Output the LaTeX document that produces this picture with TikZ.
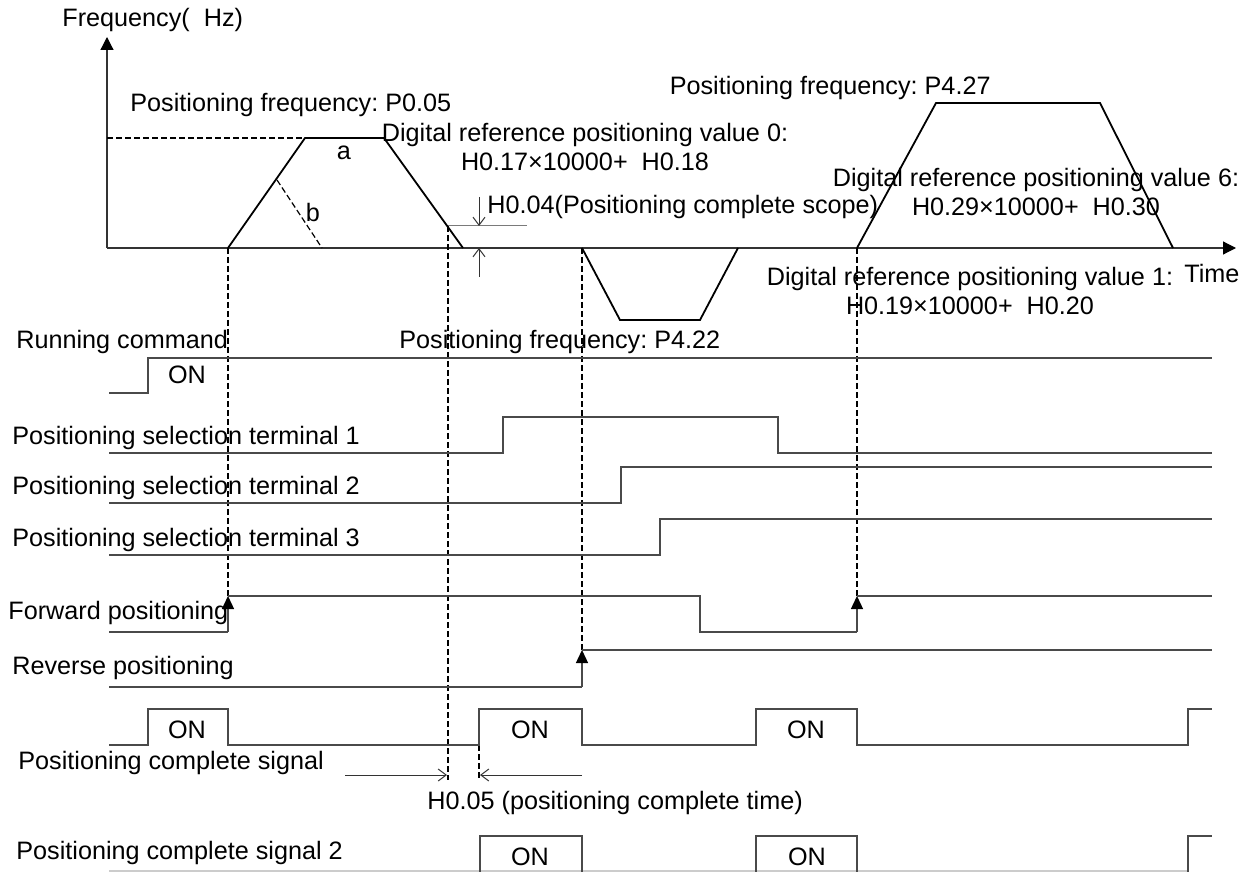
\documentclass[tikz,border=0pt]{standalone}
\usepackage{fontspec}
\setmainfont{Liberation Sans}
\usetikzlibrary{arrows.meta}
\definecolor{wavegray}{HTML}{4A4A4A}
\definecolor{guidegray}{HTML}{7A7A7A}
\frenchspacing

\begin{document}
\begin{tikzpicture}[
  x=0.5pt, y=-0.5pt,
  font=\fontsize{12.6}{14.5}\selectfont,
  lbl/.style={inner sep=0pt, anchor=west},
  ml/.style={inner sep=0pt, align=center},
  axis/.style={line width=0.6pt, draw=black!80, -{Triangle[length=6.5pt, width=6.5pt, color=black]}},
  ramp/.style={line width=0.9pt, line join=miter},
  wave/.style={line width=0.65pt, draw=wavegray},
  trig/.style={wave, -{Triangle[length=6.5pt, width=6pt, color=black]}},
  guide/.style={line width=0.6pt, dash pattern=on 3pt off 1.5pt},
  dim/.style={line width=0.5pt, draw=black!80, -{Straight Barb[length=4pt, width=6pt]}}
]
  \useasboundingbox (0,0) rectangle (1250,872);

  % axes
  \draw[axis] (107,248) -- (107,37);
  \draw[axis] (107,248) -- (1236,248);
  \node[lbl] (freq) at (62,20) {Frequency(\ \ Hz)};
  \node[lbl] (time) at (1184,273) {Time};

  % frequency profile
  \draw[guide] (107,138) -- (305,138);
  \draw[ramp] (228,248) -- (305,138) -- (384,138) -- (463,248);
  \draw[guide] (277,180) -- (322,248);
  \node[inner sep=0pt] (a) at (344,153) {a};
  \node[inner sep=0pt] (b) at (313,212) {b};
  \draw[ramp] (582,248) -- (620,320) -- (700,320) -- (738,248);
  \draw[ramp] (857,248) -- (936,103) -- (1100,103) -- (1173,248);

  \node[lbl] (pf0) at (130,105) {Positioning frequency: P0.05};
  \node[ml] (dv0) at (585,147) {Digital reference positioning value 0:\\H0.17×10000+\ \ H0.18};
  \node[lbl] (h04) at (487,207) {H0.04(Positioning complete scope)};
  \node[lbl, anchor=east] (pf27) at (991,88) {Positioning frequency: P4.27};
  \node[ml] (dv6) at (1036,192) {Digital reference positioning value 6:\\H0.29×10000+\ \ H0.30};
  \node[ml] (dv1) at (970,291) {Digital reference positioning value 1:\\H0.19×10000+\ \ H0.20};

  % complete scope
  \draw[line width=0.5pt, draw=guidegray] (448,226) -- (527,226);
  \draw[dim] (479,197) -- (479,226);
  \draw[dim] (479,277) -- (479,248);

  % dashed markers
  \draw[guide] (228,248) -- (228,596);
  \draw[guide] (448,226) -- (448,780);
  \draw[guide] (582,248) -- (582,650);
  \draw[guide] (857,248) -- (857,596);
  \draw[guide] (479,745) -- (479,780);

  % running command
  \node[lbl] (run) at (16,342) {Running command};
  \node[lbl] (pf22) at (399,342) {Positioning frequency: P4.22};
  \draw[wave] (109,393) -- (148,393) -- (148,358) -- (1212,358);
  \node[inner sep=0pt] (on1) at (187,375) {ON};

  % selection terminals
  \node[lbl] (sel1) at (12,438) {Positioning selection terminal 1};
  \draw[wave] (109,453) -- (503,453) -- (503,417) -- (778,417) -- (778,453) -- (1212,453);
  \node[lbl] (sel2) at (12,488) {Positioning selection terminal 2};
  \draw[wave] (109,503) -- (621,503) -- (621,467) -- (1212,467);
  \node[lbl] (sel3) at (12,540) {Positioning selection terminal 3};
  \draw[wave] (109,555) -- (660,555) -- (660,519) -- (1212,519);

  % forward / reverse
  \node[lbl] (fwd) at (8,613) {Forward positioning};
  \draw[wave] (109,632) -- (228,632);
  \draw[trig] (228,632) -- (228,596);
  \draw[wave] (228,596) -- (700,596) -- (700,632) -- (857,632);
  \draw[trig] (857,632) -- (857,596);
  \draw[wave] (857,596) -- (1212,596);
  \node[lbl] (rev) at (12,668) {Reverse positioning};
  \draw[wave] (109,687) -- (582,687);
  \draw[trig] (582,687) -- (582,650);
  \draw[wave] (582,650) -- (1212,650);

  % positioning complete signal
  \draw[wave] (109,745) -- (148,745) -- (148,709) -- (228,709) -- (228,745) -- (479,745)
    -- (479,709) -- (582,709) -- (582,745) -- (756,745) -- (756,709) -- (857,709)
    -- (857,745) -- (1188,745) -- (1188,709) -- (1212,709);
  \node[inner sep=0pt] (on2) at (187,730) {ON};
  \node[inner sep=0pt] (on3) at (530,730) {ON};
  \node[inner sep=0pt] (on4) at (806,730) {ON};
  \node[lbl] (pcs) at (18,763) {Positioning complete signal};
  \draw[dim] (345,775) -- (447,775);
  \draw[dim] (582,775) -- (480,775);
  \node[lbl] (h05) at (427,803) {H0.05 (positioning complete time)};

  % positioning complete signal 2
  \node[lbl] (pcs2) at (16,853) {Positioning complete signal 2};
  \draw[wave, draw=black!20] (109,871) -- (1188,871);
  \draw[wave] (480,872) -- (480,836) -- (582,836) -- (582,872);
  \draw[wave] (756,872) -- (756,836) -- (857,836) -- (857,872);
  \draw[wave] (1188,872) -- (1188,836) -- (1212,836);
  \node[inner sep=0pt] (on5) at (530,857) {ON};
  \node[inner sep=0pt] (on6) at (807,857) {ON};
\end{tikzpicture}
\end{document}
